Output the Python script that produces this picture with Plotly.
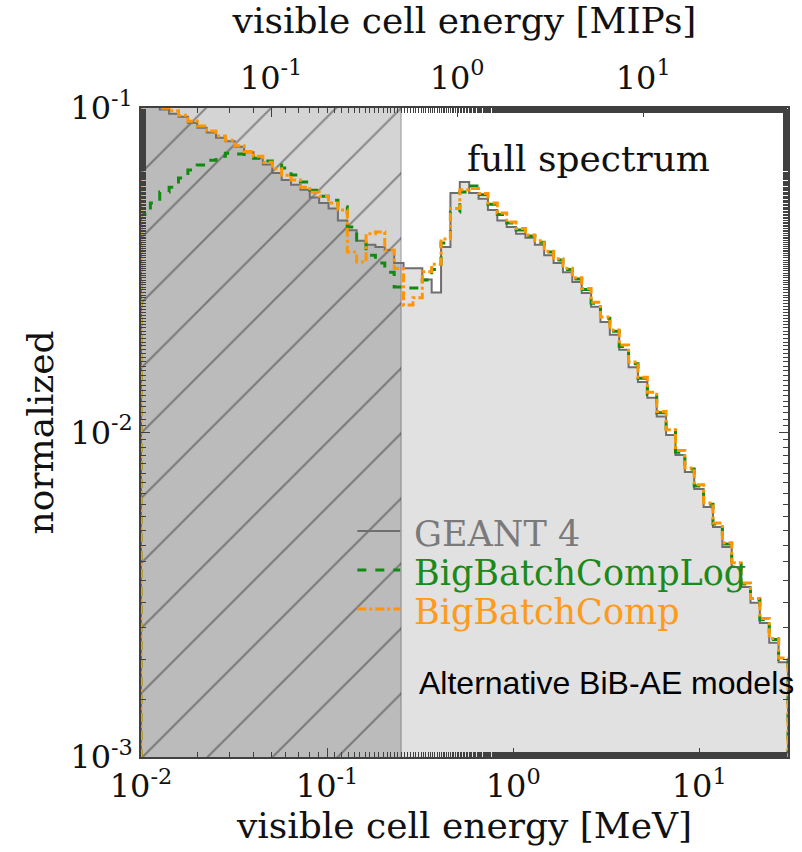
import numpy as np
import plotly.graph_objects as go

# Log-spaced binning of the visible cell energy (MeV)
E_MIN_MEV = 0.01
E_MAX_MEV = 30.0
N_EDGES = 70
MIP_MEV = 0.5          # 1 MIP in MeV
CUT_MEV = 0.25         # hatched region below half a MIP

# Normalised bin contents, one value per bin (69 bins)
geant4 = [0.108, 0.103, 0.099, 0.096, 0.094, 0.090, 0.087, 0.084, 0.081, 0.079,
          0.076, 0.073, 0.070, 0.067, 0.063, 0.060, 0.058, 0.056, 0.053, 0.051,
          0.049, 0.045, 0.042, 0.039, 0.0379, 0.0373, 0.0365, 0.0333, 0.0321, 0.0321,
          0.0296, 0.0270, 0.0373, 0.0547, 0.0591, 0.0547, 0.0525, 0.0485, 0.0450, 0.0430,
          0.0410, 0.0398, 0.0379, 0.0352, 0.0333, 0.0312, 0.0291, 0.0269, 0.0244, 0.0219,
          0.0200, 0.0180, 0.0159, 0.0143, 0.0128, 0.0112, 0.00982, 0.00853, 0.00756, 0.00670,
          0.00589, 0.00511, 0.00444, 0.00385, 0.00334, 0.00299, 0.00259, 0.00225, 0.00196]

big_batch_comp_log = [0.047, 0.051, 0.0551, 0.057, 0.0608, 0.0644, 0.0667, 0.069, 0.071, 0.0726,
                      0.0721, 0.071, 0.070, 0.0687, 0.0667, 0.0653, 0.0622, 0.0591, 0.0558, 0.0535,
                      0.052, 0.0496, 0.043, 0.0384, 0.0352, 0.0333, 0.0312, 0.0281, 0.0279, 0.0279,
                      0.0295, 0.0318, 0.0384, 0.0478, 0.0551, 0.0575, 0.0540, 0.0505, 0.0470, 0.0442,
                      0.0421, 0.0403, 0.0386, 0.0360, 0.0340, 0.0318, 0.0297, 0.0276, 0.0250, 0.0225,
                      0.0205, 0.0184, 0.0163, 0.0147, 0.0131, 0.0115, 0.0101, 0.0087, 0.00772, 0.00684,
                      0.00601, 0.00522, 0.00453, 0.00394, 0.00341, 0.00305, 0.00265, 0.00230, 0.00200]

big_batch_comp = [0.112, 0.104, 0.100, 0.098, 0.095, 0.091, 0.088, 0.085, 0.082, 0.0795,
                  0.0765, 0.0735, 0.071, 0.068, 0.065, 0.062, 0.060, 0.057, 0.055, 0.0535,
                  0.051, 0.0485, 0.036, 0.0335, 0.041, 0.0415, 0.0365, 0.032, 0.0247, 0.0260,
                  0.0313, 0.0330, 0.0395, 0.0490, 0.0560, 0.0565, 0.0545, 0.0510, 0.0475, 0.0445,
                  0.0425, 0.0406, 0.0390, 0.0362, 0.0343, 0.0321, 0.0300, 0.0278, 0.0252, 0.0227,
                  0.0207, 0.0186, 0.0165, 0.0148, 0.0133, 0.0116, 0.0102, 0.0088, 0.00778, 0.00690,
                  0.00606, 0.00526, 0.00457, 0.00397, 0.00344, 0.00308, 0.00267, 0.00232, 0.00202]

series_names = ["GEANT 4", "BigBatchCompLog", "BigBatchComp"]

y_tick_vals = [1e-3, 1e-2, 1e-1]
y_tick_text = ["10<sup>-3</sup>", "10<sup>-2</sup>", "10<sup>-1</sup>"]
mev_tick_vals = [1e-2, 1e-1, 1e0, 1e1]
mev_tick_text = ["10<sup>-2</sup>", "10<sup>-1</sup>", "10<sup>0</sup>", "10<sup>1</sup>"]
mip_tick_vals = [1e-1, 1e0, 1e1]
mip_tick_text = ["10<sup>-1</sup>", "10<sup>0</sup>", "10<sup>1</sup>"]

Y_MIN, Y_MAX = 1e-3, 1e-1
FLOOR = 1e-5   # baseline well below the visible range for closed step outlines

edges = np.logspace(np.log10(E_MIN_MEV), np.log10(E_MAX_MEV), N_EDGES)


def step_outline(values):
    """Histogram outline (step style) including the drops to the baseline."""
    xs = [edges[0]] + list(edges) + [edges[-1]]
    ys = [FLOOR] + list(values) + [values[-1], FLOOR]
    return xs, ys


SERIF = "DejaVu Serif"
FRAME = "#404040"
styles = [
    dict(line=dict(color="#6e6e6e", width=2), text="#7a7a7a"),
    dict(line=dict(color="#108a10", width=3, dash="dash"), text="#1a8a1a"),
    dict(line=dict(color="#ff9500", width=3, dash="dashdot"), text="#ff9a1a"),
]

fig = go.Figure()

# filled GEANT 4 spectrum
gx, gy = step_outline(geant4)
fig.add_trace(go.Scatter(x=gx, y=gy, mode="lines", line=dict(width=0, shape="hv"),
                         fill="toself", fillcolor="#e1e1e1", hoverinfo="skip"))

# hatched region below the cut
fig.add_trace(go.Scatter(
    x=[E_MIN_MEV, CUT_MEV, CUT_MEV, E_MIN_MEV, E_MIN_MEV],
    y=[FLOOR, FLOOR, 1.0, 1.0, FLOOR],
    mode="lines", line=dict(width=1.2, color="rgba(0,0,0,0.28)"),
    fill="toself", fillcolor="rgba(0,0,0,0.17)",
    fillpattern=dict(shape="/", size=46, solidity=0.045,
                     fgcolor="rgba(30,30,30,0.85)", bgcolor="rgba(0,0,0,0.17)"),
    hoverinfo="skip"))

# spectra outlines
for values, name, st in zip([geant4, big_batch_comp_log, big_batch_comp], series_names, styles):
    sx, sy = step_outline(values)
    fig.add_trace(go.Scatter(x=sx, y=sy, mode="lines", name=name,
                             line=dict(shape="hv", **st["line"])))

# anchor the MIP axis so it is drawn even though it carries no visible data
fig.add_trace(go.Scatter(x=[1.0], y=[FLOOR], xaxis="x2", mode="markers",
                         marker=dict(opacity=0), hoverinfo="skip"))

axis_common = dict(
    type="log", showgrid=False, zeroline=False,
    ticks="inside", ticklen=9, tickwidth=1.2, tickcolor=FRAME,
    minor=dict(ticks="inside", ticklen=5, tickwidth=1, tickcolor=FRAME, showgrid=False),
    tickfont=dict(family=SERIF, size=32, color="#111"),
)

# hand-made legend: short key lines plus coloured labels (paper coordinates)
PLOT_L, PLOT_R, PLOT_T, PLOT_B = 141, 790, 108, 757


def px_x(px):
    return (px - PLOT_L) / (PLOT_R - PLOT_L)


def px_y(py):
    return (PLOT_B - py) / (PLOT_B - PLOT_T)


legend_rows = [531, 570, 609]
shapes, annotations = [], []
for name, st, row in zip(series_names, styles, legend_rows):
    shapes.append(dict(type="line", xref="paper", yref="paper",
                       x0=px_x(358), x1=px_x(401), y0=px_y(row), y1=px_y(row),
                       line=st["line"]))
    annotations.append(dict(text=name, xref="paper", yref="paper",
                            x=px_x(413), y=px_y(row + 3), xanchor="left", yanchor="middle",
                            showarrow=False,
                            font=dict(family=SERIF, size=35, color=st["text"])))

annotations += [
    dict(text="full spectrum", xref="paper", yref="paper", x=px_x(590), y=px_y(158),
         xanchor="center", yanchor="middle", showarrow=False,
         font=dict(family=SERIF, size=36, color="#111")),
    dict(text="Alternative BiB-AE models", xref="paper", yref="paper",
         x=px_x(608), y=px_y(683), xanchor="center", yanchor="middle", showarrow=False,
         font=dict(family="Liberation Sans", size=32, color="black")),
]

fig.update_layout(
    width=802, height=852,
    margin=dict(l=PLOT_L, r=802 - PLOT_R, t=PLOT_T, b=852 - PLOT_B),
    paper_bgcolor="white", plot_bgcolor="white",
    showlegend=False,
    xaxis=dict(**axis_common,
               range=[np.log10(E_MIN_MEV), np.log10(E_MAX_MEV)],
               tickvals=mev_tick_vals, ticktext=mev_tick_text,
               showline=True, linecolor=FRAME, linewidth=1.6, mirror=True,
               title=dict(text="visible cell energy [MeV]", standoff=6,
                          font=dict(family=SERIF, size=36, color="#111"))),
    xaxis2=dict(**axis_common, overlaying="x", side="top", anchor="y",
                range=[np.log10(E_MIN_MEV / MIP_MEV), np.log10(E_MAX_MEV / MIP_MEV)],
                tickvals=mip_tick_vals, ticktext=mip_tick_text, showline=False,
                ticklabelstandoff=12,
                title=dict(text="visible cell energy [MIPs]", standoff=14,
                           font=dict(family=SERIF, size=36, color="#111"))),
    yaxis=dict(**axis_common,
               range=[np.log10(Y_MIN), np.log10(Y_MAX)],
               tickvals=y_tick_vals, ticktext=y_tick_text,
               showline=True, linecolor=FRAME, linewidth=1.6, mirror="ticks",
               title=dict(text="normalized", standoff=6,
                          font=dict(family=SERIF, size=36, color="#111"))),
    shapes=shapes,
    annotations=annotations,
)

fig.write_html("out.html")
